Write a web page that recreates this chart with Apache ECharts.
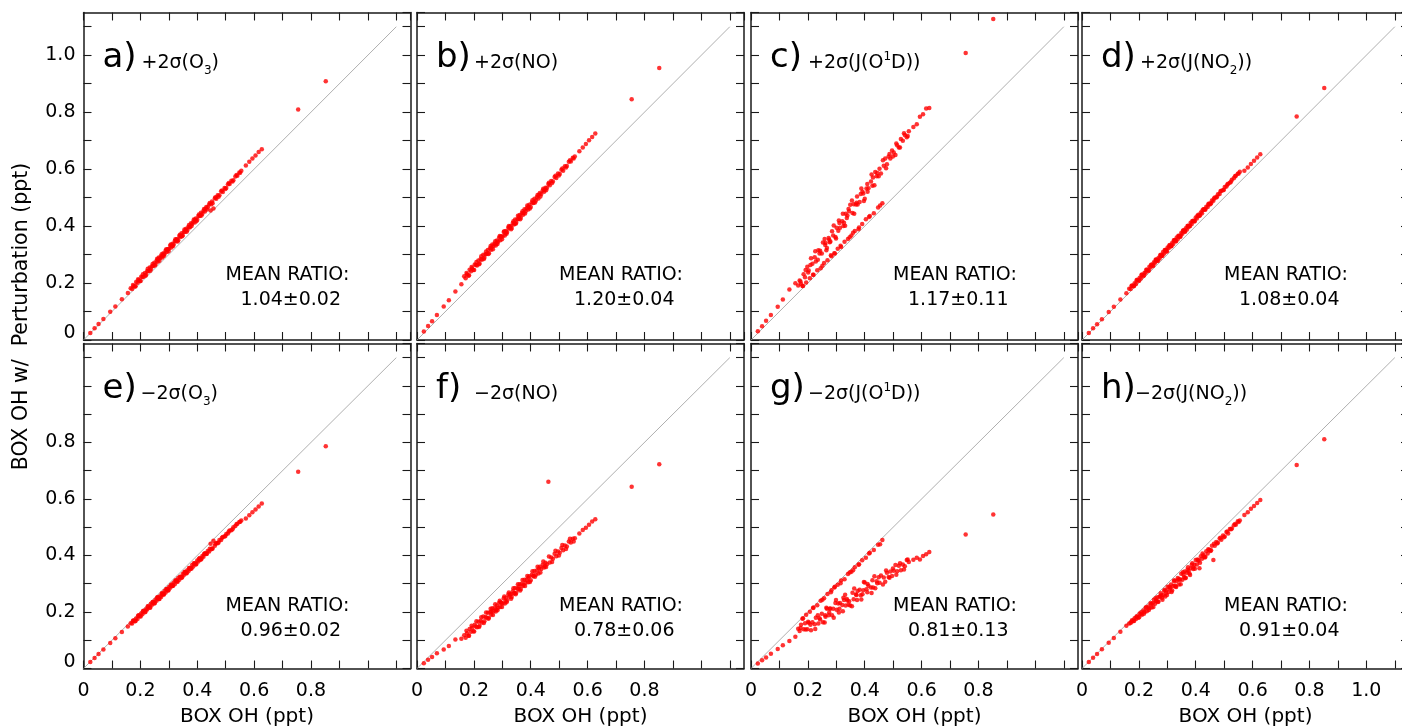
<!DOCTYPE html>
<html>
<head>
<meta charset="utf-8">
<script src="https://cdn.jsdelivr.net/npm/echarts@6/dist/echarts.min.js"></script>
<style>
  html, body { margin: 0; padding: 0; background: #ffffff; overflow: hidden; }
  /* the last column runs past the right edge of the window, as in the original layout */
  #chart { width: 1420px; height: 727px; }
</style>
</head>
<body>
<div id="chart"></div>
<script>
// Base-case box-model OH (ppt), shared by all eight sensitivity runs
const boxOH = [
  0.024,0.039,0.053,0.070,0.094,0.112,0.135,0.156,
  0.166,0.171,0.176,0.181,0.185,0.190,0.194,0.198,0.203,0.207,
  0.211,0.216,0.220,0.224,0.228,0.233,0.237,0.241,0.245,0.249,
  0.253,0.257,0.261,0.265,0.269,0.273,0.277,0.281,0.285,0.289,
  0.293,0.297,0.301,0.305,0.309,0.313,0.317,0.321,0.325,0.329,
  0.333,0.337,0.341,0.345,0.349,0.353,0.357,0.361,0.365,0.369,
  0.373,0.378,0.382,0.386,0.391,0.395,0.400,0.404,0.409,0.413,
  0.418,0.422,0.427,0.432,0.437,0.442,0.447,0.452,0.457,0.462,
  0.467,0.472,0.478,0.484,0.490,0.496,0.502,0.508,0.514,0.520,
  0.527,0.534,0.541,0.548,0.555,
  0.571,0.583,0.594,0.605,0.616,0.627,
  0.755,0.852,
  0.174,0.183,0.192,0.201,0.209,0.218,0.226,0.235,0.243,0.251,
  0.259,0.267,0.275,0.283,0.291,0.299,0.307,0.315,0.323,0.331,
  0.339,0.347,0.355,0.363,0.371,0.380,0.388,0.397,0.406,0.415,
  0.424,0.434,0.444,0.454,0.464,0.475,0.487,0.499,0.511,0.524,
  0.538,0.551,0.262,0.279,0.295,0.311,0.327,0.343,0.359,0.375,
  0.392,0.410,0.429,0.449
];

// Box-model OH with each input perturbed by +/- 2 sigma (ppt)
const ohPlusO3 = [
  0.025,0.041,0.056,0.074,0.099,0.118,0.143,0.165,
  0.182,0.179,0.189,0.188,0.204,0.201,0.211,0.207,0.222,0.221,
  0.222,0.235,0.229,0.242,0.241,0.255,0.249,0.259,0.260,0.271,
  0.265,0.278,0.275,0.290,0.287,0.294,0.290,0.305,0.302,0.314,
  0.309,0.319,0.320,0.332,0.325,0.338,0.335,0.348,0.347,0.354,
  0.350,0.365,0.362,0.375,0.368,0.379,0.380,0.391,0.385,0.398,
  0.395,0.410,0.407,0.415,0.413,0.427,0.422,0.435,0.435,0.447,
  0.443,0.454,0.451,0.467,0.466,0.476,0.455,0.486,0.462,0.498,
  0.496,0.508,0.508,0.522,0.520,0.534,0.534,0.547,0.548,0.559,
  0.561,0.574,0.577,0.588,0.594,
  0.613,0.626,0.637,0.648,0.660,0.670,
  0.809,0.909,
  0.193,0.189,0.213,0.207,0.231,0.226,0.250,0.243,0.267,0.262,
  0.285,0.278,0.301,0.296,0.319,0.312,0.335,0.330,0.354,0.346,
  0.370,0.364,0.388,0.380,0.404,0.400,0.423,0.417,0.441,0.437,
  0.460,0.458,0.481,0.480,0.501,0.503,0.525,0.530,0.551,0.557,
  0.579,0.587,0.283,0.297,0.318,0.330,0.353,0.365,0.386,0.398,
  0.422,0.437,0.461,0.477
];
const ohPlusNO = [
  0.030,0.049,0.066,0.088,0.118,0.140,0.170,0.196,
  0.224,0.217,0.231,0.226,0.247,0.241,0.252,0.246,0.265,0.263,
  0.262,0.279,0.269,0.284,0.282,0.299,0.289,0.301,0.302,0.316,
  0.305,0.322,0.317,0.335,0.330,0.338,0.332,0.349,0.345,0.360,
  0.350,0.363,0.363,0.379,0.367,0.383,0.379,0.395,0.392,0.400,
  0.393,0.411,0.406,0.423,0.412,0.424,0.425,0.439,0.429,0.445,
  0.440,0.459,0.452,0.463,0.458,0.475,0.467,0.483,0.481,0.496,
  0.490,0.502,0.497,0.516,0.513,0.525,0.521,0.535,0.534,0.548,
  0.543,0.558,0.557,0.572,0.569,0.585,0.583,0.598,0.594,0.610,
  0.611,0.626,0.627,0.640,0.644,
  0.663,0.676,0.688,0.701,0.713,0.725,
  0.845,0.955,
  0.235,0.227,0.256,0.246,0.274,0.266,0.294,0.284,0.311,0.302,
  0.330,0.319,0.347,0.337,0.365,0.354,0.382,0.373,0.400,0.389,
  0.417,0.408,0.436,0.424,0.452,0.444,0.472,0.462,0.491,0.483,
  0.509,0.504,0.531,0.526,0.552,0.551,0.577,0.578,0.602,0.606,
  0.631,0.637,0.325,0.339,0.363,0.375,0.397,0.409,0.433,0.446,
  0.468,0.483,0.510,0.527
];
const ohPlusJO1D = [
  0.031,0.048,0.068,0.088,0.117,0.142,0.177,0.199,
  0.191,0.209,0.197,0.190,0.231,0.220,0.202,0.257,0.244,0.217,
  0.287,0.268,0.229,0.291,0.276,0.245,0.315,0.304,0.252,0.304,
  0.342,0.270,0.334,0.315,0.280,0.358,0.343,0.298,0.382,0.367,
  0.305,0.362,0.394,0.320,0.420,0.394,0.327,0.417,0.400,0.345,
  0.443,0.428,0.355,0.452,0.475,0.367,0.446,0.477,0.383,0.476,
  0.504,0.389,0.485,0.513,0.407,0.514,0.496,0.424,0.548,0.533,
  0.435,0.557,0.542,0.445,0.590,0.575,0.465,0.601,0.585,0.480,
  0.612,0.637,0.617,0.644,0.637,0.665,0.658,0.650,0.684,0.676,
  0.706,0.700,0.720,0.712,0.733,
  0.748,0.758,0.784,0.793,0.813,0.815,
  1.008,1.127,
  0.205,0.190,0.246,0.237,0.263,0.229,0.312,0.282,0.313,0.261,
  0.355,0.323,0.352,0.294,0.402,0.356,0.384,0.331,0.443,0.401,
  0.437,0.361,0.490,0.443,0.482,0.395,0.532,0.488,0.532,0.432,
  0.581,0.543,0.586,0.472,0.631,0.603,0.653,0.644,0.690,0.676,
  0.726,0.716,0.341,0.346,0.304,0.411,0.412,0.460,0.377,0.476,
  0.521,0.521,0.571,0.575
];
const ohPlusJNO2 = [
  0.025,0.041,0.055,0.073,0.098,0.117,0.142,0.164,
  0.180,0.179,0.191,0.189,0.199,0.197,0.212,0.209,0.219,0.216,
  0.230,0.225,0.236,0.236,0.247,0.243,0.257,0.255,0.264,0.260,
  0.273,0.271,0.283,0.278,0.288,0.286,0.299,0.296,0.309,0.304,
  0.315,0.311,0.325,0.323,0.334,0.329,0.341,0.337,0.350,0.347,
  0.360,0.355,0.365,0.362,0.376,0.373,0.385,0.380,0.392,0.388,
  0.401,0.400,0.412,0.407,0.418,0.416,0.430,0.427,0.440,0.436,
  0.448,0.445,0.459,0.457,0.468,0.467,0.479,0.478,0.490,0.489,
  0.500,0.500,0.512,0.513,0.524,0.526,0.537,0.539,0.549,0.552,
  0.563,0.568,0.577,0.584,0.591,
  0.594,0.606,0.618,0.629,0.641,0.652,
  0.785,0.885,
  0.190,0.190,0.210,0.208,0.228,0.227,0.247,0.244,0.264,0.262,
  0.282,0.278,0.298,0.296,0.316,0.312,0.332,0.330,0.350,0.347,
  0.366,0.365,0.384,0.381,0.400,0.400,0.418,0.418,0.436,0.438,
  0.456,0.458,0.477,0.480,0.497,0.503,0.522,0.528,0.546,0.556,
  0.575,0.585,0.281,0.295,0.316,0.329,0.350,0.363,0.384,0.397,
  0.419,0.435,0.459,0.476
];
const ohMinusO3 = [
  0.023,0.037,0.051,0.067,0.090,0.107,0.129,0.149,
  0.160,0.159,0.170,0.167,0.177,0.175,0.188,0.185,0.195,0.192,
  0.204,0.199,0.210,0.209,0.219,0.215,0.229,0.226,0.235,0.230,
  0.243,0.240,0.252,0.246,0.256,0.253,0.266,0.263,0.274,0.269,
  0.280,0.276,0.288,0.286,0.297,0.292,0.303,0.298,0.311,0.308,
  0.320,0.314,0.324,0.321,0.334,0.331,0.342,0.337,0.348,0.344,
  0.356,0.354,0.366,0.361,0.371,0.368,0.382,0.379,0.391,0.386,
  0.398,0.395,0.408,0.405,0.416,0.414,0.441,0.424,0.452,0.434,
  0.444,0.443,0.455,0.455,0.465,0.467,0.476,0.478,0.488,0.489,
  0.500,0.504,0.512,0.518,0.524,
  0.531,0.542,0.553,0.563,0.573,0.584,
  0.696,0.786,
  0.169,0.168,0.187,0.184,0.203,0.201,0.220,0.216,0.235,0.232,
  0.251,0.246,0.265,0.262,0.281,0.277,0.295,0.293,0.311,0.307,
  0.325,0.323,0.341,0.337,0.356,0.354,0.372,0.370,0.388,0.388,
  0.405,0.406,0.424,0.425,0.441,0.446,0.463,0.469,0.485,0.493,
  0.510,0.519,0.250,0.262,0.281,0.292,0.311,0.322,0.341,0.352,
  0.372,0.385,0.407,0.422
];
const ohMinusNO = [
  0.019,0.031,0.041,0.054,0.067,0.080,0.103,0.105,
  0.118,0.109,0.125,0.116,0.140,0.130,0.144,0.132,0.155,0.149,
  0.146,0.165,0.151,0.169,0.163,0.184,0.167,0.182,0.180,0.197,
  0.180,0.199,0.191,0.213,0.203,0.213,0.202,0.223,0.215,0.233,
  0.218,0.232,0.230,0.249,0.230,0.250,0.241,0.262,0.254,0.263,
  0.253,0.273,0.265,0.285,0.268,0.283,0.280,0.298,0.281,0.300,
  0.292,0.314,0.303,0.314,0.305,0.326,0.312,0.332,0.326,0.345,
  0.332,0.347,0.336,0.360,0.352,0.367,0.357,0.374,0.369,0.661,
  0.375,0.393,0.388,0.406,0.397,0.414,0.410,0.426,0.418,0.435,
  0.432,0.449,0.446,0.459,0.461,
  0.478,0.490,0.498,0.509,0.520,0.528,
  0.643,0.723,
  0.134,0.116,0.151,0.131,0.167,0.147,0.181,0.161,0.198,0.176,
  0.211,0.189,0.227,0.206,0.240,0.218,0.255,0.234,0.269,0.247,
  0.284,0.263,0.298,0.276,0.313,0.292,0.327,0.306,0.344,0.325,
  0.360,0.340,0.379,0.359,0.396,0.377,0.417,0.400,0.437,0.423,
  0.459,0.449,0.203,0.209,0.234,0.239,0.262,0.267,0.290,0.296,
  0.321,0.328,0.354,0.362
];
const ohMinusJO1D = [
  0.018,0.029,0.039,0.052,0.069,0.082,0.097,0.112,
  0.141,0.133,0.155,0.176,0.139,0.160,0.190,0.139,0.162,0.201,
  0.135,0.164,0.216,0.157,0.180,0.224,0.159,0.178,0.240,0.194,
  0.164,0.249,0.188,0.215,0.264,0.188,0.211,0.270,0.188,0.211,
  0.287,0.232,0.208,0.296,0.198,0.232,0.311,0.225,0.250,0.316,
  0.223,0.246,0.334,0.238,0.223,0.342,0.268,0.245,0.358,0.262,
  0.242,0.367,0.279,0.259,0.383,0.277,0.304,0.392,0.270,0.293,
  0.410,0.287,0.312,0.419,0.284,0.309,0.438,0.303,0.329,0.455,
  0.322,0.307,0.339,0.324,0.343,0.327,0.346,0.366,0.344,0.364,
  0.348,0.368,0.362,0.384,0.377,
  0.385,0.392,0.386,0.398,0.404,0.412,
  0.474,0.545,
  0.143,0.178,0.138,0.165,0.155,0.214,0.140,0.188,0.173,0.243,
  0.163,0.211,0.198,0.277,0.180,0.242,0.230,0.302,0.203,0.261,
  0.241,0.340,0.220,0.283,0.260,0.369,0.244,0.306,0.280,0.407,
  0.267,0.326,0.302,0.440,0.297,0.347,0.321,0.354,0.332,0.372,
  0.350,0.386,0.183,0.212,0.289,0.211,0.242,0.226,0.348,0.274,
  0.263,0.299,0.287,0.323
];
const ohMinusJNO2 = [
  0.023,0.038,0.051,0.068,0.091,0.108,0.130,0.151,
  0.159,0.161,0.171,0.168,0.178,0.175,0.184,0.180,0.195,0.193,
  0.190,0.205,0.200,0.215,0.203,0.219,0.213,0.231,0.216,0.232,
  0.243,0.229,0.240,0.252,0.237,0.254,0.266,0.250,0.259,0.275,
  0.255,0.276,0.289,0.271,0.284,0.297,0.276,0.292,0.312,0.290,
  0.310,0.320,0.297,0.314,0.335,0.314,0.332,0.343,0.321,0.339,
  0.358,0.336,0.355,0.367,0.352,0.367,0.384,0.368,0.384,0.355,
  0.397,0.388,0.401,0.393,0.415,0.407,0.420,0.416,0.434,0.384,
  0.434,0.448,0.445,0.460,0.456,0.471,0.467,0.483,0.478,0.494,
  0.495,0.507,0.509,0.521,0.524,
  0.543,0.553,0.565,0.575,0.586,0.596,
  0.720,0.811,
  0.165,0.168,0.184,0.181,0.199,0.194,0.217,0.207,0.228,0.218,
  0.249,0.235,0.256,0.243,0.279,0.260,0.289,0.271,0.310,0.288,
  0.315,0.298,0.341,0.319,0.349,0.331,0.372,0.353,0.386,0.374,
  0.407,0.395,0.422,0.418,0.441,0.442,0.463,0.464,0.485,0.493,
  0.511,0.518,0.238,0.259,0.266,0.286,0.294,0.316,0.323,0.345,
  0.357,0.381,0.395,0.418
];

// Panel annotations
const panelLetters = ['a)', 'b)', 'c)', 'd)', 'e)', 'f)', 'g)', 'h)'];
const panelTitles = [
  '{n|+2σ(O}{sb|3}{n|)}',
  '{n|+2σ(NO)}',
  '{n|+2σ(J(O}{sp|1}{n|D))}',
  '{n|+2σ(J(NO}{sb|2}{n|))}',
  '{n|−2σ(O}{sb|3}{n|)}',
  '{n|−2σ(NO)}',
  '{n|−2σ(J(O}{sp|1}{n|D))}',
  '{n|−2σ(J(NO}{sb|2}{n|))}'
];
const meanRatios = ['1.04±0.02', '1.20±0.04', '1.17±0.11', '1.08±0.04',
                    '0.96±0.02', '0.78±0.06', '0.81±0.13', '0.91±0.04'];
const panelSeries = [ohPlusO3, ohPlusNO, ohPlusJO1D, ohPlusJNO2,
                     ohMinusO3, ohMinusNO, ohMinusJO1D, ohMinusJNO2];

// Tick labels
const xTicksBottom = ['0', '0.2', '0.4', '0.6', '0.8'];
const xTicksLastColumn = ['0', '0.2', '0.4', '0.6', '0.8', '1.0'];
const yTicksTop = ['0', '0.2', '0.4', '0.6', '0.8', '1.0'];
const yTicksBottom = ['0', '0.2', '0.4', '0.6', '0.8'];

// 1:1 reference line end points
const unityLine = [0, 1.1];

// Layout
const FONT = '"DejaVu Sans", "Liberation Sans", sans-serif';
const colLeft = [83.5, 417, 751, 1082];
const rowTop = [12.5, 343.5];
const rowHeight = [327.5, 325];
const panelWidth = 327;
const titleOffset = [58, 57, 57, 58, 57, 57, 57, 53];
const AXIS_MAX = 1.15;
const INK = '#1a1a1a';

function labelFormatter(list, isY) {
  return function (v) {
    if (Math.abs(v * 10 - Math.round(v * 10)) > 1e-6) return '';
    const s = Math.abs(v) < 1e-9 ? '0' : v.toFixed(1);
    if (!list.includes(s)) return '';
    return (isY && s === '0') ? '{lo|0}' : s;
  };
}

function baseAxis(gridIndex, position, labels, isY) {
  return {
    type: 'value',
    gridIndex: gridIndex,
    position: position,
    min: 0,
    max: AXIS_MAX,
    interval: 0.1,
    axisLine: { show: true, onZero: false, lineStyle: { color: INK, width: 1.5 } },
    axisTick: { show: true, inside: true, length: 8, lineStyle: { color: INK, width: 1.1 } },
    splitLine: { show: false },
    axisLabel: {
      show: labels.length > 0,
      showMinLabel: true,
      showMaxLabel: false,
      hideOverlap: false,
      color: '#000',
      fontFamily: FONT,
      fontSize: 19,
      margin: isY ? 8 : 13,
      formatter: labelFormatter(labels, isY),
      rich: { lo: { fontFamily: FONT, fontSize: 19, color: '#000', padding: [0, 0, 13, 0] } }
    }
  };
}

const grids = [], xAxes = [], yAxes = [], series = [], graphics = [];

for (let i = 0; i < 8; i++) {
  const col = i % 4, row = Math.floor(i / 4);
  const left = colLeft[col], top = rowTop[row];
  grids.push({
    left: left, top: top, width: panelWidth, height: rowHeight[row],
    containLabel: false, outerBoundsMode: 'none'
  });

  const xl = row === 1 ? (col === 3 ? xTicksLastColumn : xTicksBottom) : [];
  const yl = col === 0 ? (row === 0 ? yTicksTop : yTicksBottom) : [];
  xAxes.push(baseAxis(i, 'bottom', xl, false));
  xAxes.push(baseAxis(i, 'top', [], false));
  yAxes.push(baseAxis(i, 'left', yl, true));
  yAxes.push(baseAxis(i, 'right', [], true));

  series.push({
    type: 'line',
    xAxisIndex: 2 * i,
    yAxisIndex: 2 * i,
    data: unityLine.map(v => [v, v]),
    symbol: 'none',
    silent: true,
    z: 1,
    lineStyle: { color: '#9a9a9a', width: 0.8 }
  });
  const ys = panelSeries[i];
  series.push({
    type: 'scatter',
    xAxisIndex: 2 * i,
    yAxisIndex: 2 * i,
    data: boxOH.map((x, k) => [x, ys[k]]),
    symbol: 'circle',
    symbolSize: 4.5,
    z: 3,
    itemStyle: { color: '#ff0000' }
  });

  graphics.push({
    type: 'text', x: left + 19, y: top + 46, silent: true,
    style: {
      text: panelLetters[i], fill: '#000',
      font: '34px ' + FONT,
      align: 'left', textAlign: 'left', verticalAlign: 'middle', textVerticalAlign: 'middle'
    }
  });
  graphics.push({
    type: 'text', x: left + titleOffset[i], y: top + 51, silent: true,
    style: {
      text: panelTitles[i], fill: '#000',
      font: '19px ' + FONT,
      align: 'left', textAlign: 'left', verticalAlign: 'middle', textVerticalAlign: 'middle',
      rich: {
        n: { fontSize: 19, fontFamily: FONT, lineHeight: 26, fill: '#000', color: '#000' },
        sb: { fontSize: 12, fontFamily: FONT, lineHeight: 12, verticalAlign: 'bottom', fill: '#000', color: '#000' },
        sp: { fontSize: 12, fontFamily: FONT, lineHeight: 12, verticalAlign: 'top', fill: '#000', color: '#000' }
      }
    }
  });
  graphics.push({
    type: 'text', x: left + 142, y: top + 263, silent: true,
    style: {
      text: 'MEAN RATIO:', fill: '#000', font: '19px ' + FONT,
      align: 'left', textAlign: 'left', verticalAlign: 'middle', textVerticalAlign: 'middle'
    }
  });
  graphics.push({
    type: 'text', x: left + 157, y: top + 287.5, silent: true,
    style: {
      text: meanRatios[i], fill: '#000', font: '19px ' + FONT,
      align: 'left', textAlign: 'left', verticalAlign: 'middle', textVerticalAlign: 'middle'
    }
  });
  if (row === 1) {
    graphics.push({
      type: 'text', x: left + 163.5, y: 716.5, silent: true,
      style: {
        text: 'BOX OH (ppt)', fill: '#000', font: '20px ' + FONT,
        align: 'center', textAlign: 'center', verticalAlign: 'middle', textVerticalAlign: 'middle'
      }
    });
  }
}

graphics.push({
  type: 'text', x: 22, y: 316.5, rotation: Math.PI / 2, silent: true,
  style: {
    text: 'BOX OH w/  Perturbation (ppt)', fill: '#000', font: '20.5px ' + FONT,
    align: 'center', textAlign: 'center', verticalAlign: 'middle', textVerticalAlign: 'middle'
  }
});

const chart = echarts.init(document.getElementById('chart'), null, { renderer: 'canvas' });
chart.setOption({
  animation: false,
  backgroundColor: '#ffffff',
  grid: grids,
  xAxis: xAxes,
  yAxis: yAxes,
  series: series,
  graphic: graphics
});
</script>
</body>
</html>
